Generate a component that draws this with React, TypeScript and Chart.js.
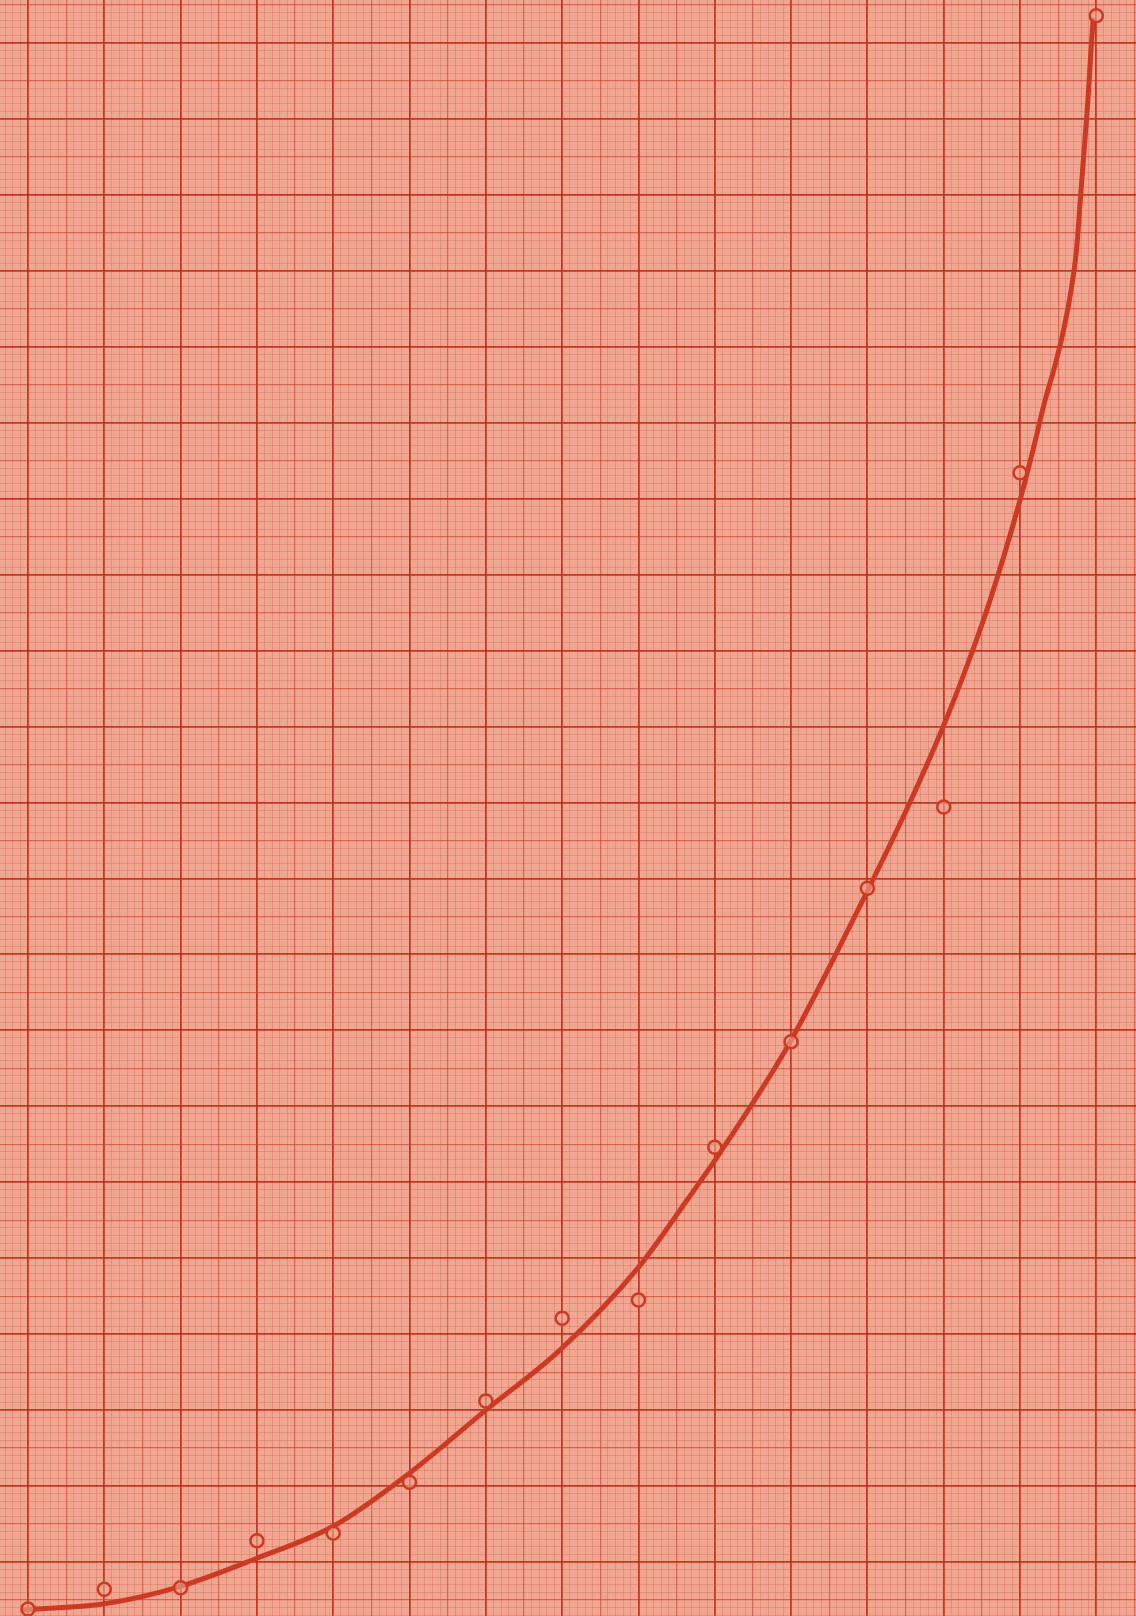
import React, { useEffect, useRef } from "react";
import { Chart, registerables } from "chart.js";

Chart.register(...registerables);

// Measured observations (circles): x in major grid units, y in major grid units
const pointX = [0, 1, 2, 3, 4, 5, 6, 7, 8, 9, 10, 11, 12, 13, 14];
const pointY = [-0.62, -0.36, -0.34, 0.28, 0.38, 1.05, 2.12, 3.21, 3.45, 5.46, 6.85, 8.87, 9.94, 14.34, 20.36];

// Hand-drawn fitted curve
const curveX = [-0.07, 1.0, 2.0, 3.0, 4.0, 5.0, 6.0, 6.97, 8.0, 8.64, 9.07, 9.95, 10.81, 11.53, 11.99, 12.32, 12.61, 13.0, 13.17, 13.33, 13.46, 13.58, 13.67, 13.74, 13.79, 13.84, 13.89, 13.93, 13.96];
const curveY = [-0.63, -0.55, -0.32, 0.05, 0.47, 1.17, 2.0, 2.79, 3.88, 4.77, 5.39, 6.78, 8.45, 9.94, 10.99, 11.84, 12.67, 13.98, 14.64, 15.30, 15.76, 16.26, 16.75, 17.27, 17.93, 18.59, 19.25, 19.91, 20.33];

// Grid tick values (1/10 of a major square)
const xGridTicks = Array.from({ length: 150 }, (_, i) => (i - 4) / 10);
const yGridTicks = Array.from({ length: 214 }, (_, i) => (i - 8) / 10);

const PAPER = "#f0a690";
const MAJOR = "rgba(190,44,26,0.9)";
const MEDIUM = "rgba(198,60,40,0.6)";
const MINOR = "rgba(190,80,60,0.32)";
const INK = "#cd3a24";

function gridColor(ctx: any) {
  const v = ctx.tick ? ctx.tick.value : 0;
  const k = Math.round(v * 10);
  if (k % 10 === 0) return MAJOR;
  if (k % 5 === 0) return MEDIUM;
  return MINOR;
}
function gridWidth(ctx: any) {
  const v = ctx.tick ? ctx.tick.value : 0;
  const k = Math.round(v * 10);
  if (k % 10 === 0) return 1.8;
  if (k % 5 === 0) return 1.2;
  return 0.8;
}

export default function App() {
  const ref = useRef<HTMLCanvasElement | null>(null);
  useEffect(() => {
    if (!ref.current) return;
    const chart = new Chart(ref.current, {
      type: "scatter",
      data: {
        datasets: [
          {
            label: "observations",
            data: pointX.map((x, i) => ({ x, y: pointY[i] })),
            showLine: false,
            pointStyle: "circle",
            pointRadius: 6.5,
            pointBorderWidth: 2.5,
            pointBorderColor: INK,
            pointBackgroundColor: "rgba(240,166,144,0.6)",
            order: 1,
          },
          {
            label: "curve",
            data: curveX.map((x, i) => ({ x, y: curveY[i] })),
            showLine: true,
            borderColor: INK,
            borderWidth: 5,
            pointRadius: 0,
            cubicInterpolationMode: "monotone",
            order: 2,
          } as any,
        ],
      },
      options: {
        animation: false,
        responsive: false,
        maintainAspectRatio: false,
        layout: { padding: 0, autoPadding: false },
        plugins: { legend: { display: false }, tooltip: { enabled: false } },
        scales: {
          x: {
            type: "linear",
            min: -0.367,
            max: 14.52,
            afterBuildTicks: (scale: any) => {
              scale.ticks = xGridTicks.map((v) => ({ value: v }));
            },
            ticks: { display: false },
            border: { display: false },
            grid: { color: gridColor, lineWidth: gridWidth, drawTicks: false },
          },
          y: {
            type: "linear",
            min: -0.711,
            max: 20.566,
            afterBuildTicks: (scale: any) => {
              scale.ticks = yGridTicks.map((v) => ({ value: v }));
            },
            ticks: { display: false },
            border: { display: false },
            grid: { color: gridColor, lineWidth: gridWidth, drawTicks: false },
          },
        },
      } as any,
    });
    return () => chart.destroy();
  }, []);
  return (
    <div style={{ position: "fixed", left: 0, top: 0, width: 1136, height: 1616, background: PAPER }}>
      <canvas ref={ref} width={1136} height={1616} style={{ width: 1136, height: 1616, display: "block" }} />
    </div>
  );
}
